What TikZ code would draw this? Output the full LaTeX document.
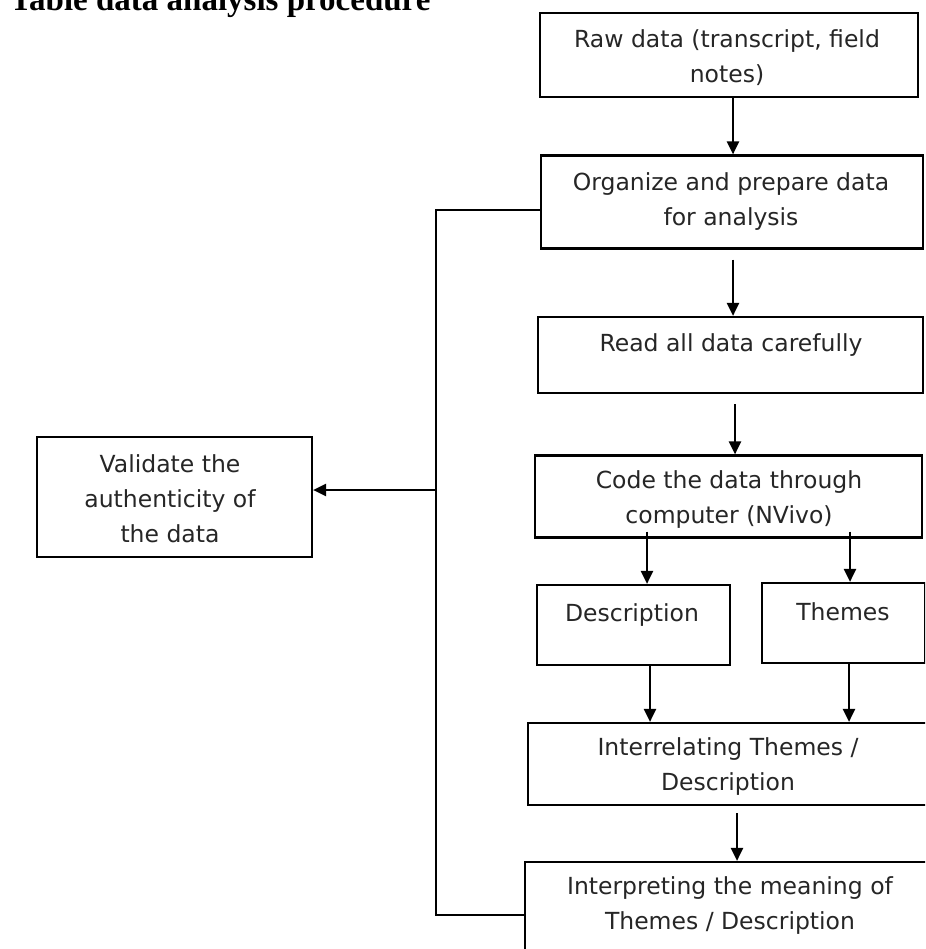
\documentclass[tikz,border=0pt]{standalone}
\usepackage{fontspec}
\setmainfont{DejaVu Sans}
\newfontfamily\titlefont{Liberation Serif}
\usetikzlibrary{arrows.meta,calc}
\tikzset{
  box/.style={draw=black, line width=2.2pt, rectangle, inner sep=0pt, fill=white},
  txt/.style={align=center, text=black!85, font=\fontsize{23.5}{35}\selectfont, inner sep=0pt},
  conn/.style={draw=black, line width=2.2pt},
  arr/.style={conn, -{Triangle[length=13pt,width=12pt]}},
}
\begin{document}
\begin{tikzpicture}[x=1pt,y=-1pt]
\useasboundingbox (0,0) rectangle (925,949);
\clip (0,0) rectangle (925,949);
% title (cut at top, as in the reference)
\node[anchor=base west, inner sep=0pt, font=\titlefont\bfseries\fontsize{33}{34}\selectfont] (title) at (10,11) {Table data analysis procedure};
% boxes
\node[box, minimum width=378pt, minimum height=84pt] (raw) at (729,55) {};
\node[box, minimum width=382pt, minimum height=93pt] (org) at (732,202) {};
\node[box, minimum width=385pt, minimum height=76pt] (read) at (730.5,355) {};
\node[box, minimum width=387pt, minimum height=82pt] (code) at (728.5,496.5) {};
\node[box, minimum width=193pt, minimum height=80pt] (desc) at (633.5,625) {};
\node[box, minimum width=163pt, minimum height=80pt] (themes) at (843.5,623) {};
\node[box, minimum width=407pt, minimum height=82pt] (inter) at (731.5,764) {};
\node[box, minimum width=410pt, minimum height=96pt] (interp) at (730,910) {};
\node[box, minimum width=275pt, minimum height=120pt] (valid) at (174.5,497) {};
% texts
\node[txt] (rawt) at (727,58) {Raw data (transcript, field\\notes)};
\node[txt] (orgt) at (731,202) {Organize and prepare data\\for analysis};
\node[txt] (readt) at (731,345) {Read all data carefully};
\node[txt] (codet) at (729,500) {Code the data through\\computer (NVivo)};
\node[txt] (desct) at (632,615) {Description};
\node[txt] (themest) at (843,612) {Themes};
\node[txt] (intert) at (728,767) {Interrelating Themes /\\Description};
\node[txt] (interpt) at (730,906) {Interpreting the meaning of\\Themes / Description};
\node[txt] (validt) at (170,499) {Validate the\\authenticity of\\the data};
% vertical arrows
\draw[arr] ([xshift=4pt]raw.south) -- ([xshift=4pt]raw.south |- org.north);
\draw[arr] ([xshift=1pt,yshift=-10pt]org.south) -- ([xshift=1pt]org.south |- read.north);
\draw[arr] ([xshift=4.5pt,yshift=-10pt]read.south) -- ([xshift=4.5pt]read.south |- code.north);
\draw[arr] ([xshift=13.5pt,yshift=7pt]desc.north |- code.south) -- ([xshift=13.5pt]desc.north);
\draw[arr] ([xshift=6.5pt,yshift=7pt]themes.north |- code.south) -- ([xshift=6.5pt]themes.north);
\draw[arr] ([xshift=16.5pt]desc.south) -- ([xshift=16.5pt]desc.south |- inter.north);
\draw[arr] ([xshift=5.5pt]themes.south) -- ([xshift=5.5pt]themes.south |- inter.north);
\draw[arr] ([xshift=5.5pt,yshift=-7pt]inter.south) -- ([xshift=5.5pt]inter.south |- interp.north);
% feedback line
\coordinate (j1) at (436,210);
\coordinate (j2) at (436,915);
\coordinate (j3) at (436,490);
\draw[conn] (j1 -| org.west) -- (j1) -- (j2) -- (j2 -| interp.west);
\draw[arr] (j3) -- (j3 -| valid.east);
\end{tikzpicture}
\end{document}
